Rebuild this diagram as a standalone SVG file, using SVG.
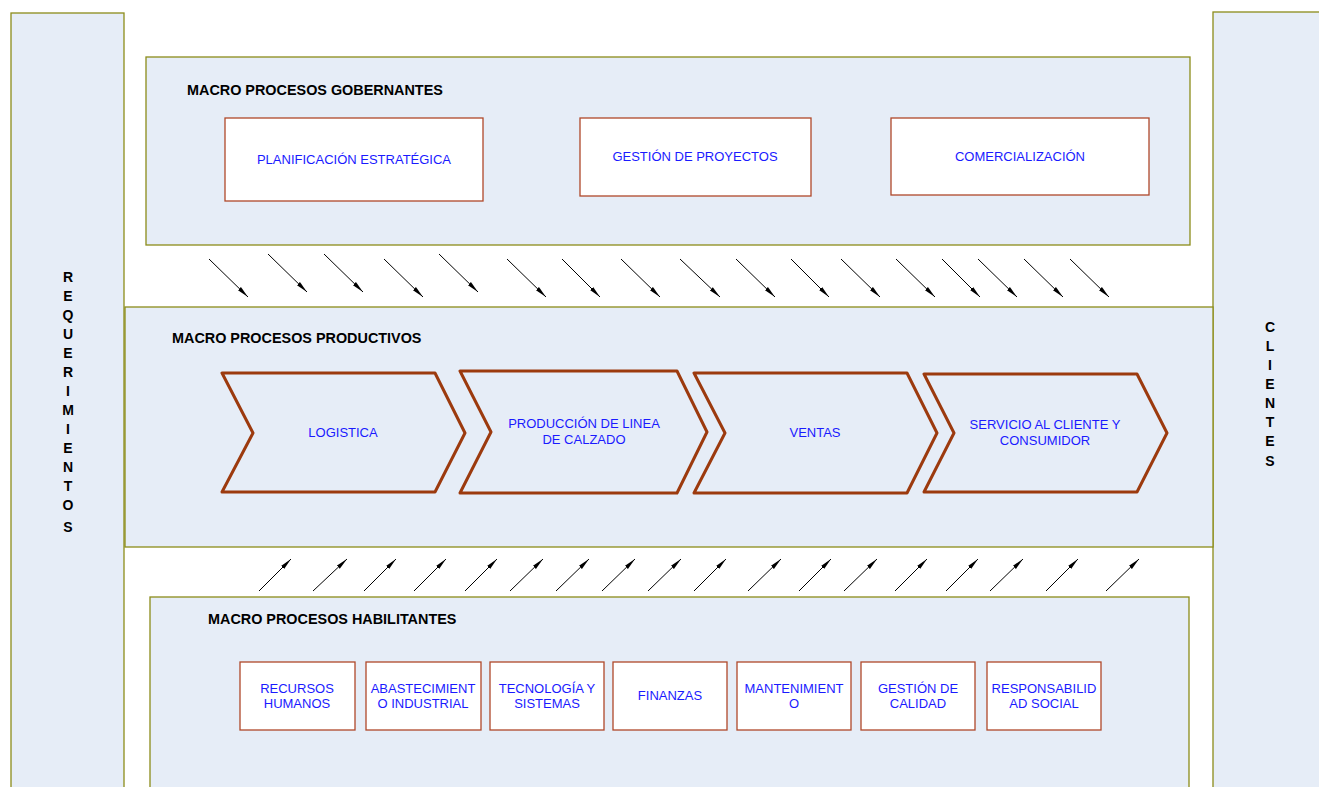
<svg xmlns="http://www.w3.org/2000/svg" width="1319" height="787" viewBox="0 0 1319 787">
<defs>
<style>
.panel{fill:#E6EDF7;stroke:#8C8C1A;stroke-width:1.3}
.box{fill:#FFFFFF;stroke:#B0482A;stroke-width:1.3}
.chev{fill:#E6EDF7;stroke:#9C3A0E;stroke-width:3;stroke-linejoin:round}
.lbl{font-family:"Liberation Sans",Arial,sans-serif;font-size:13px;fill:#1A1AFF;text-anchor:middle}
.head{font-family:"Liberation Sans",Arial,sans-serif;font-size:14.4px;font-weight:bold;fill:#000}
.vert{font-family:"Liberation Sans",Arial,sans-serif;font-size:14px;font-weight:bold;fill:#000;text-anchor:middle}
.arr{stroke:#000;stroke-width:1;fill:none;marker-end:url(#ah)}
</style>
<marker id="ah" viewBox="0 0 12 6" refX="12" refY="3" markerWidth="12" markerHeight="6" markerUnits="userSpaceOnUse" orient="auto">
<path d="M0,0.8 L12,3 L0,5.2 Z" fill="#000"/>
</marker>
</defs>
<rect width="1319" height="787" fill="#FFFFFF"/>

<g id="requerimientos">
<rect class="panel" x="11" y="13" width="113" height="790"/>
<text class="vert"><tspan x="68" y="282">R</tspan><tspan x="68" y="301">E</tspan><tspan x="68" y="320">Q</tspan><tspan x="68" y="339">U</tspan><tspan x="68" y="358">E</tspan><tspan x="68" y="377">R</tspan><tspan x="68" y="396">I</tspan><tspan x="68" y="415">M</tspan><tspan x="68" y="434">I</tspan><tspan x="68" y="453">E</tspan><tspan x="68" y="472">N</tspan><tspan x="68" y="491">T</tspan><tspan x="68" y="510">O</tspan><tspan x="68" y="532">S</tspan></text>
</g>

<g id="clientes">
<rect class="panel" x="1213" y="12" width="120" height="790"/>
<text class="vert"><tspan x="1270" y="332">C</tspan><tspan x="1270" y="351">L</tspan><tspan x="1270" y="370">I</tspan><tspan x="1270" y="389">E</tspan><tspan x="1270" y="408">N</tspan><tspan x="1270" y="427">T</tspan><tspan x="1270" y="446">E</tspan><tspan x="1270" y="466">S</tspan></text>
</g>

<g id="gobernantes">
<rect class="panel" x="146" y="57" width="1044" height="188"/>
<text class="head" x="187" y="95">MACRO PROCESOS GOBERNANTES</text>
</g>
<g id="planificacion">
<rect class="box" x="225" y="118" width="258" height="83"/>
<text class="lbl" x="354" y="164">PLANIFICACIÓN ESTRATÉGICA</text>
</g>
<g id="gestion-proyectos">
<rect class="box" x="580" y="118" width="231" height="78"/>
<text class="lbl" x="695" y="161">GESTIÓN DE PROYECTOS</text>
</g>
<g id="comercializacion">
<rect class="box" x="891" y="118" width="258" height="77"/>
<text class="lbl" x="1020" y="161">COMERCIALIZACIÓN</text>
</g>

<g id="productivos">
<rect class="panel" x="125" y="307" width="1088" height="240"/>
<text class="head" x="172" y="343">MACRO PROCESOS PRODUCTIVOS</text>
</g>
<g id="logistica">
<path class="chev" d="M222,373 L435,373 L465,433 L435,492 L222,492 L253,433 Z"/>
<text class="lbl" x="343" y="437">LOGISTICA</text>
</g>
<g id="produccion">
<path class="chev" d="M460,371 L677,371 L707,432 L677,493 L460,493 L491,432 Z"/>
<text class="lbl" x="584" y="428">PRODUCCIÓN DE LINEA</text>
<text class="lbl" x="584" y="444">DE CALZADO</text>
</g>
<g id="ventas">
<path class="chev" d="M694,373 L907,373 L937,433 L907,493 L694,493 L725,433 Z"/>
<text class="lbl" x="815" y="437">VENTAS</text>
</g>
<g id="servicio">
<path class="chev" d="M924,374 L1137,374 L1167,433 L1137,492 L924,492 L954,433 Z"/>
<text class="lbl" x="1045" y="429">SERVICIO AL CLIENTE Y</text>
<text class="lbl" x="1045" y="445">CONSUMIDOR</text>
</g>

<g id="habilitantes">
<rect class="panel" x="150" y="597" width="1039" height="210"/>
<text class="head" x="208" y="624">MACRO PROCESOS HABILITANTES</text>
</g>
<g id="rrhh">
<rect class="box" x="240" y="662" width="115" height="68"/>
<text class="lbl" x="297" y="693">RECURSOS</text>
<text class="lbl" x="297" y="708">HUMANOS</text>
</g>
<g id="abastecimiento">
<rect class="box" x="366" y="662" width="115" height="68"/>
<text class="lbl" x="423" y="693">ABASTECIMIENT</text>
<text class="lbl" x="423" y="708">O INDUSTRIAL</text>
</g>
<g id="tecnologia">
<rect class="box" x="490" y="662" width="114" height="68"/>
<text class="lbl" x="547" y="693">TECNOLOGÍA Y</text>
<text class="lbl" x="547" y="708">SISTEMAS</text>
</g>
<g id="finanzas">
<rect class="box" x="613" y="662" width="114" height="68"/>
<text class="lbl" x="670" y="700">FINANZAS</text>
</g>
<g id="mantenimiento">
<rect class="box" x="737" y="662" width="114" height="68"/>
<text class="lbl" x="794" y="693">MANTENIMIENT</text>
<text class="lbl" x="794" y="708">O</text>
</g>
<g id="calidad">
<rect class="box" x="861" y="662" width="114" height="68"/>
<text class="lbl" x="918" y="693">GESTIÓN DE</text>
<text class="lbl" x="918" y="708">CALIDAD</text>
</g>
<g id="responsabilidad">
<rect class="box" x="987" y="662" width="114" height="68"/>
<text class="lbl" x="1044" y="693">RESPONSABILID</text>
<text class="lbl" x="1044" y="708">AD SOCIAL</text>
</g>

<g id="connectors">
<line class="arr" x1="209" y1="259" x2="248" y2="297"/>
<line class="arr" x1="268" y1="254" x2="307" y2="292"/>
<line class="arr" x1="324" y1="254" x2="363" y2="292"/>
<line class="arr" x1="384" y1="259" x2="423" y2="297"/>
<line class="arr" x1="439" y1="254" x2="478" y2="292"/>
<line class="arr" x1="507" y1="259" x2="546" y2="297"/>
<line class="arr" x1="562" y1="259" x2="600" y2="297"/>
<line class="arr" x1="621" y1="259" x2="660" y2="297"/>
<line class="arr" x1="680" y1="259" x2="720" y2="297"/>
<line class="arr" x1="736" y1="259" x2="775" y2="297"/>
<line class="arr" x1="791" y1="259" x2="829" y2="297"/>
<line class="arr" x1="841" y1="259" x2="880" y2="297"/>
<line class="arr" x1="896" y1="259" x2="935" y2="297"/>
<line class="arr" x1="942" y1="259" x2="980" y2="297"/>
<line class="arr" x1="978" y1="259" x2="1017" y2="297"/>
<line class="arr" x1="1024" y1="259" x2="1063" y2="297"/>
<line class="arr" x1="1070" y1="259" x2="1109" y2="297"/>

<line class="arr" x1="259" y1="591" x2="291" y2="559"/>
<line class="arr" x1="313" y1="591" x2="347" y2="559"/>
<line class="arr" x1="364" y1="591" x2="396" y2="559"/>
<line class="arr" x1="414" y1="591" x2="446" y2="559"/>
<line class="arr" x1="465" y1="591" x2="497" y2="559"/>
<line class="arr" x1="510" y1="591" x2="543" y2="559"/>
<line class="arr" x1="556" y1="591" x2="589" y2="559"/>
<line class="arr" x1="602" y1="591" x2="635" y2="559"/>
<line class="arr" x1="648" y1="591" x2="681" y2="559"/>
<line class="arr" x1="694" y1="591" x2="726" y2="559"/>
<line class="arr" x1="748" y1="591" x2="781" y2="559"/>
<line class="arr" x1="799" y1="591" x2="831" y2="559"/>
<line class="arr" x1="844" y1="591" x2="877" y2="559"/>
<line class="arr" x1="895" y1="591" x2="927" y2="559"/>
<line class="arr" x1="946" y1="591" x2="978" y2="559"/>
<line class="arr" x1="990" y1="591" x2="1023" y2="559"/>
<line class="arr" x1="1046" y1="591" x2="1078" y2="559"/>
<line class="arr" x1="1106" y1="591" x2="1139" y2="559"/>
</g>
</svg>
